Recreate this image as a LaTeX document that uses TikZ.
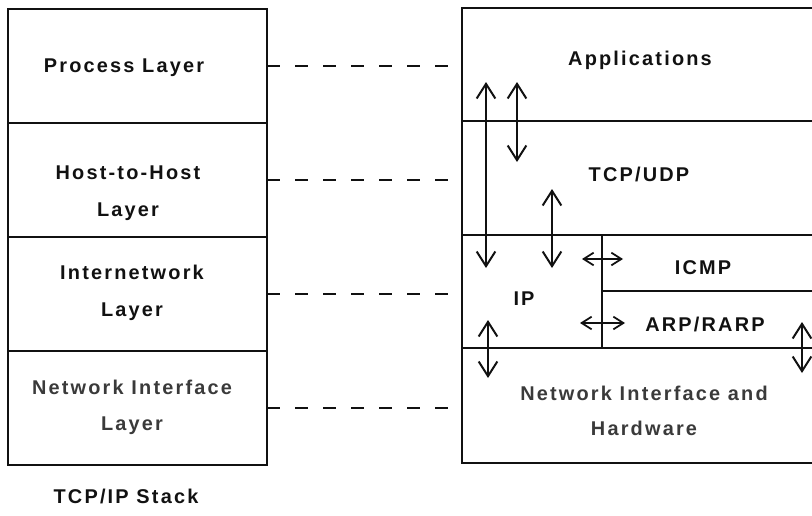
\documentclass[tikz,border=0pt]{standalone}
\usepackage{fontspec}
\setmainfont{Liberation Sans}[LetterSpace=11]
\usepackage{xcolor}
\usetikzlibrary{calc,positioning,arrows.meta}
\definecolor{ink}{HTML}{111111}
\definecolor{soft}{HTML}{3A3A3A}
\tikzset{
  layer/.style={draw=ink, line width=1pt, outer sep=0pt, inner sep=0pt},
  wide/.style={layer, minimum width=77.7mm},
  full/.style={layer, minimum width=106mm},
  lab/.style={align=center, inner sep=0pt, text=ink, font=\fontsize{17pt}{32pt}\selectfont\bfseries},
  dashline/.style={draw=ink, line width=0.9pt, dash pattern=on 3.9mm off 4.5mm},
  vdbl/.style={draw=ink, line width=1.7pt, {Straight Barb[length=4.4mm,width=5.6mm]}-{Straight Barb[length=4.4mm,width=5.6mm]}},
  hdbl/.style={draw=ink, line width=1.5pt, {Straight Barb[length=3mm,width=3.8mm]}-{Straight Barb[length=3mm,width=3.8mm]}},
}

\begin{document}
\begin{tikzpicture}[x=0.3mm,y=-0.3mm]
  \useasboundingbox (0,0) rectangle (812,515);

  % TCP/IP stack (left)
  \node[wide, minimum height=34.2mm, anchor=north west] (proc) at (8,9) {};
  \node[wide, minimum height=34.2mm, below=0pt of proc] (host) {};
  \node[wide, minimum height=34.2mm, below=0pt of host] (inet) {};
  \node[wide, minimum height=34.2mm, below=0pt of inet] (nif) {};

  % protocols (right), right edge runs off the page
  \node[full, minimum height=33.9mm, anchor=north west] (app) at (462,8) {};
  \node[full, minimum height=34.2mm, below=0pt of app] (tcp) {};
  \node[layer, minimum width=42mm, minimum height=33.9mm, below right=0pt and 0pt of tcp.south west] (ip) {};
  \node[layer, minimum width=64mm, minimum height=16.8mm, below right=0pt and 0pt of ip.north east] (icmp) {};
  \node[layer, minimum width=64mm, minimum height=17.1mm, below=0pt of icmp] (arp) {};
  \node[full, minimum height=34.5mm, below right=0pt and 0pt of ip.south west] (hw) {};

  % labels
  \node[lab] (procL) at (124,68) {Process Layer};
  \node[lab] (hostL) at (128,193) {Host-to-Host\\Layer};
  \node[lab] (inetL) at (132,293) {Internetwork\\Layer};
  \node[lab, text=soft, font=\fontsize{17pt}{30.5pt}\selectfont\bfseries] (nifL) at (132,407) {Network Interface\\Layer};
  \node[lab] (stackL) at (126,496) {TCP/IP Stack};
  \node[lab] (appL) at (640,60) {Applications};
  \node[lab] (tcpL) at (639,174) {TCP/UDP};
  \node[lab] (ipL) at (524,299) {IP};
  \node[lab] (icmpL) at (703,268) {ICMP};
  \node[lab] (arpL) at (705,324) {ARP/RARP};
  \node[lab, text=soft, font=\fontsize{17pt}{30.5pt}\selectfont\bfseries] (hwL) at (644,411) {Network Interface and\\Hardware};

  % layer correspondence
  \draw[dashline] (proc.east) -- (proc.east -| app.west);
  \draw[dashline] (host.east) -- (host.east -| tcp.west);
  \draw[dashline] (inet.east) -- (inet.east -| ip.west);
  \draw[dashline] (nif.east) -- (nif.east -| hw.west);

  % data paths
  \coordinate (a1) at (486,82);  \coordinate (a2) at (486,268);
  \coordinate (b1) at (517,82);  \coordinate (b2) at (517,162);
  \coordinate (c1) at (552,189); \coordinate (c2) at (552,268);
  \coordinate (d1) at (582,259); \coordinate (d2) at (623,259);
  \coordinate (e1) at (580,323); \coordinate (e2) at (625,323);
  \coordinate (f1) at (488,320); \coordinate (f2) at (488,378);
  \coordinate (g1) at (802,322); \coordinate (g2) at (802,373);
  \draw[vdbl] (a1) -- (a2);
  \draw[vdbl] (b1) -- (b2);
  \draw[vdbl] (c1) -- (c2);
  \draw[hdbl] (d1) -- (d2);
  \draw[hdbl] (e1) -- (e2);
  \draw[vdbl] (f1) -- (f2);
  \draw[vdbl] (g1) -- (g2);
\end{tikzpicture}
\end{document}
